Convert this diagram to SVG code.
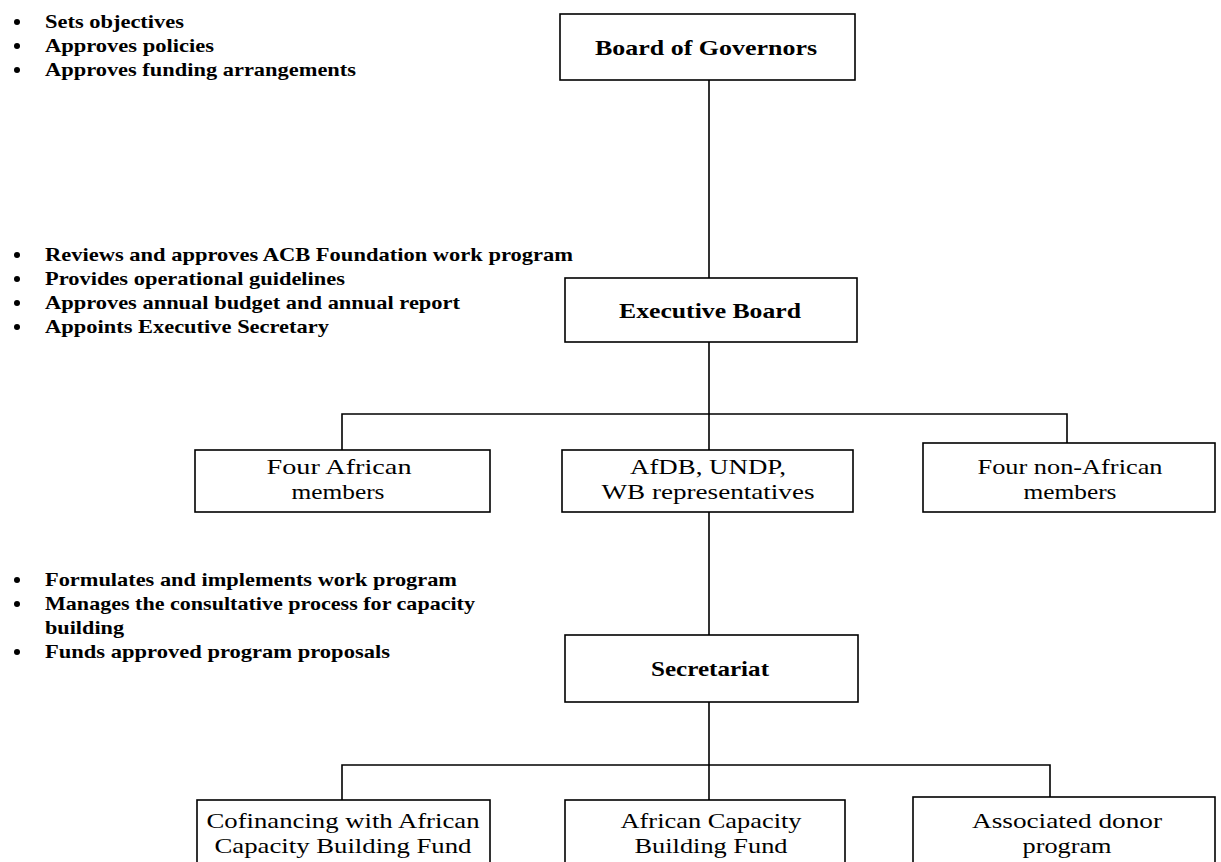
<svg xmlns="http://www.w3.org/2000/svg" width="1221" height="862" viewBox="0 0 1221 862">
<style>
.b{fill:#fff;stroke:#000;stroke-width:1.6}
.c{stroke:#000;stroke-width:1.6;fill:none}
.t{font-family:"Liberation Serif",serif;font-weight:bold;font-size:19px;fill:#000}
.h{font-family:"Liberation Serif",serif;font-weight:bold;font-size:22px;fill:#000;text-anchor:middle}
.n{font-family:"Liberation Serif",serif;font-size:22px;fill:#000;text-anchor:middle}
.d{fill:#000}
</style>
<rect width="1221" height="862" fill="#fff"/>
<g id="connectors">
<path class="c" d="M709 80V278M709 342V450M342 450V414H1067V443M709 512V635M709 702V800M342 800V765H1050V797"/>
</g>
<g id="notes-governors">
<circle class="d" cx="17" cy="22" r="3"/><circle class="d" cx="17" cy="46" r="3"/><circle class="d" cx="17" cy="70" r="3"/>
<text class="t" x="45" y="28" textLength="139" lengthAdjust="spacingAndGlyphs">Sets objectives</text>
<text class="t" x="45" y="52" textLength="169" lengthAdjust="spacingAndGlyphs">Approves policies</text>
<text class="t" x="45" y="76" textLength="311" lengthAdjust="spacingAndGlyphs">Approves funding arrangements</text>
</g>
<g id="notes-executive">
<circle class="d" cx="17" cy="255" r="3"/><circle class="d" cx="17" cy="279" r="3"/><circle class="d" cx="17" cy="303" r="3"/><circle class="d" cx="17" cy="327" r="3"/>
<text class="t" x="45" y="261" textLength="528" lengthAdjust="spacingAndGlyphs">Reviews and approves ACB Foundation work program</text>
<text class="t" x="45" y="285" textLength="300" lengthAdjust="spacingAndGlyphs">Provides operational guidelines</text>
<text class="t" x="45" y="309" textLength="415" lengthAdjust="spacingAndGlyphs">Approves annual budget and annual report</text>
<text class="t" x="45" y="333" textLength="284" lengthAdjust="spacingAndGlyphs">Appoints Executive Secretary</text>
</g>
<g id="notes-secretariat">
<circle class="d" cx="17" cy="580" r="3"/><circle class="d" cx="17" cy="604" r="3"/><circle class="d" cx="17" cy="652" r="3"/>
<text class="t" x="45" y="586" textLength="412" lengthAdjust="spacingAndGlyphs">Formulates and implements work program</text>
<text class="t" x="45" y="610" textLength="430" lengthAdjust="spacingAndGlyphs">Manages the consultative process for capacity</text>
<text class="t" x="45" y="634" textLength="79" lengthAdjust="spacingAndGlyphs">building</text>
<text class="t" x="45" y="658" textLength="345" lengthAdjust="spacingAndGlyphs">Funds approved program proposals</text>
</g>
<g id="board-of-governors">
<rect class="b" x="560" y="14" width="295" height="66"/>
<text class="h" x="706" y="55" textLength="222" lengthAdjust="spacingAndGlyphs">Board of Governors</text>
</g>
<g id="executive-board">
<rect class="b" x="565" y="278" width="292" height="64"/>
<text class="h" x="710" y="318" textLength="182" lengthAdjust="spacingAndGlyphs">Executive Board</text>
</g>
<g id="four-african">
<rect class="b" x="195" y="450" width="295" height="62"/>
<text class="n" x="339" y="474" textLength="145" lengthAdjust="spacingAndGlyphs">Four African</text>
<text class="n" x="338" y="499" textLength="93" lengthAdjust="spacingAndGlyphs">members</text>
</g>
<g id="representatives">
<rect class="b" x="562" y="450" width="291" height="62"/>
<text class="n" x="708" y="474" textLength="156" lengthAdjust="spacingAndGlyphs">AfDB, UNDP,</text>
<text class="n" x="708" y="499" textLength="213" lengthAdjust="spacingAndGlyphs">WB representatives</text>
</g>
<g id="four-non-african">
<rect class="b" x="923" y="443" width="292" height="69"/>
<text class="n" x="1070" y="474" textLength="185" lengthAdjust="spacingAndGlyphs">Four non-African</text>
<text class="n" x="1070" y="499" textLength="93" lengthAdjust="spacingAndGlyphs">members</text>
</g>
<g id="secretariat">
<rect class="b" x="565" y="635" width="293" height="67"/>
<text class="h" x="710" y="676" textLength="118" lengthAdjust="spacingAndGlyphs">Secretariat</text>
</g>
<g id="cofinancing">
<rect class="b" x="197" y="800" width="293" height="70"/>
<text class="n" x="343" y="828" textLength="273" lengthAdjust="spacingAndGlyphs">Cofinancing with African</text>
<text class="n" x="343" y="853" textLength="257" lengthAdjust="spacingAndGlyphs">Capacity Building Fund</text>
</g>
<g id="acbf">
<rect class="b" x="565" y="800" width="280" height="70"/>
<text class="n" x="711" y="828" textLength="181" lengthAdjust="spacingAndGlyphs">African Capacity</text>
<text class="n" x="711" y="853" textLength="153" lengthAdjust="spacingAndGlyphs">Building Fund</text>
</g>
<g id="associated-donor">
<rect class="b" x="913" y="797" width="302" height="73"/>
<text class="n" x="1067" y="828" textLength="190" lengthAdjust="spacingAndGlyphs">Associated donor</text>
<text class="n" x="1067" y="853" textLength="89" lengthAdjust="spacingAndGlyphs">program</text>
</g>
</svg>
